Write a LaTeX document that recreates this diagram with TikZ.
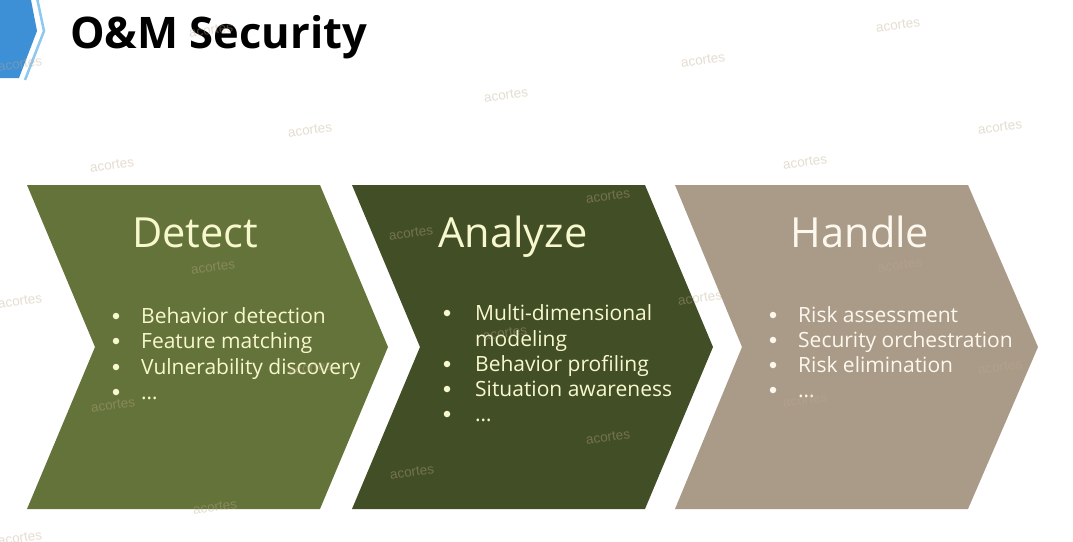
\documentclass[tikz,border=0pt]{standalone}
\usepackage{fontspec}
\setmainfont{Open Sans}
\newfontfamily\wmfont{Liberation Sans}
\definecolor{detectfill}{RGB}{100,115,57}
\definecolor{analyzefill}{RGB}{66,78,38}
\definecolor{handlefill}{RGB}{170,154,136}
\definecolor{cream}{RGB}{248,248,206}
\definecolor{handletext}{RGB}{253,248,238}
\definecolor{logoblue}{RGB}{61,143,214}
\definecolor{logoline}{RGB}{140,200,240}
\definecolor{wmtint}{RGB}{190,170,140}
\begin{document}
\begin{tikzpicture}[x=1pt,y=-1pt,
  heading/.style={anchor=base west,font=\bfseries\fontsize{43.5}{50}\selectfont,text=black,inner sep=0pt},
  stagetitle/.style={anchor=base,font=\fontsize{41.5}{48}\selectfont,inner sep=0pt},
  bul/.style={circle,inner sep=0pt,minimum size=6.5pt},
  itm/.style={anchor=base west,font=\fontsize{21}{25}\selectfont,inner sep=0pt},
  wm/.style={font=\wmfont\fontsize{13.5}{15}\selectfont,text=wmtint,text opacity=0.4,rotate=8,inner sep=0pt}]
\useasboundingbox (0,0) rectangle (1073,541);
\fill[white] (0,0) rectangle (1073,541);

% corner logo
\fill[logoblue] (0,0) -- (31,0) -- (37,31) -- (19,78) -- (0,78) -- cycle;
\draw[logoline,line width=2.5pt,line join=miter] (37,-2) -- (44,31) -- (25,80);

% page heading
\node[heading] (head) at (70,48) {O\&M Security};

% three process stages
\fill[detectfill]  (27,185) -- (320,185) -- (388,347) -- (320,509) -- (27,509) -- (95,347) -- cycle;
\fill[analyzefill] (352,185) -- (645,185) -- (713,347) -- (645,509) -- (352,509) -- (420,347) -- cycle;
\fill[handlefill]  (675,185) -- (968,185) -- (1038,347) -- (968,509) -- (675,509) -- (742,347) -- cycle;

% Detect
\node[stagetitle,text=cream] (detect) at (195,247) {Detect};
\begin{scope}[text=cream]
\node[bul,fill=cream] (d1b) at (116,316) {}; \node[itm] (d1) at (141,323) {Behavior detection};
\node[bul,fill=cream] (d2b) at (116,341) {}; \node[itm] (d2) at (141,348) {Feature matching};
\node[bul,fill=cream] (d3b) at (116,367) {}; \node[itm] (d3) at (141,374) {Vulnerability discovery};
\node[bul,fill=cream] (d4b) at (116,392) {}; \node[itm] (d4) at (141,399) {…};
\end{scope}

% Analyze
\node[stagetitle,text=cream] (analyze) at (513,247) {Analyze};
\begin{scope}[text=cream]
\node[bul,fill=cream] (a1b) at (447,313) {}; \node[itm] (a1) at (475,320) {Multi-dimensional};
\node[itm] (a1x) at (475,346) {modeling};
\node[bul,fill=cream] (a2b) at (447,364) {}; \node[itm] (a2) at (475,371) {Behavior profiling};
\node[bul,fill=cream] (a3b) at (447,389) {}; \node[itm] (a3) at (475,396) {Situation awareness};
\node[bul,fill=cream] (a4b) at (447,414) {}; \node[itm] (a4) at (475,421) {…};
\end{scope}

% Handle
\node[stagetitle,text=handletext] (handle) at (860,247) {Handle};
\begin{scope}[text=handletext]
\node[bul,fill=handletext] (h1b) at (773,315) {}; \node[itm] (h1) at (798,322) {Risk assessment};
\node[bul,fill=handletext] (h2b) at (773,340) {}; \node[itm] (h2) at (798,347) {Security orchestration};
\node[bul,fill=handletext] (h3b) at (773,365) {}; \node[itm] (h3) at (798,372) {Risk elimination};
\node[bul,fill=handletext] (h4b) at (773,390) {}; \node[itm] (h4) at (798,397) {…};
\end{scope}

% watermark grid
\foreach \x/\y [count=\i] in {211/30,20/64,
  898/25,703/60,506/95,310/130,112/165,
  1000/127,805/162,608/196,411/233,213/267,20/301,
  900/265,700/298,505/333,310/368,113/405,
  1000/367,805/400,608/437,412/472,215/507,20/538}
  \node[wm] (wm\i) at (\x,\y) {acortes};
\end{tikzpicture}
\end{document}
